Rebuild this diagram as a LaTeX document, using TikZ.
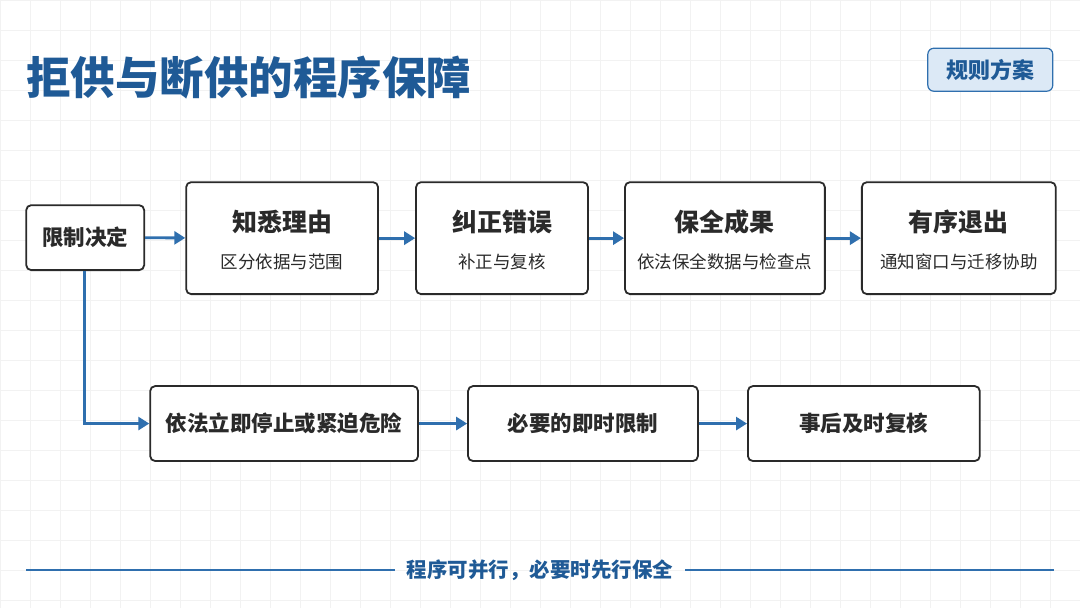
\documentclass[tikz,border=0pt]{standalone}
\usepackage{fontspec}
\setmainfont{Noto Sans CJK SC}
\usetikzlibrary{arrows.meta}
\definecolor{blu}{HTML}{1F5A96}
\definecolor{arr}{HTML}{2F6FAE}
\definecolor{txt}{HTML}{2A2A2A}
\definecolor{tagbg}{HTML}{DCE9F6}
\begin{document}
\begin{tikzpicture}[x=1pt,y=-1pt,
  box/.style={draw=txt,line width=1.8pt,rounded corners=5pt,fill=white,inner sep=0pt},
  con/.style={draw=arr,line width=2.8pt,-{Triangle[length=11pt,width=13pt]}},
  tt/.style={font=\bfseries\fontsize{25}{30}\selectfont,text=txt},
  st/.style={font=\fontsize{17.5}{21}\selectfont,text=txt},
  bt/.style={font=\bfseries\fontsize{21.5}{26}\selectfont,text=txt}]
\fill[white] (0,0) rectangle (1080,608);
\foreach \i in {0,30,...,1080} \draw[black!5,line width=0.5pt] (\i,0) -- (\i,608);
\foreach \j in {0,30,...,600} \draw[black!5,line width=0.5pt] (0,\j) -- (1080,\j);
\useasboundingbox (0,0) rectangle (1080,608);
\node[anchor=west,text=blu,font=\bfseries\fontsize{44.5}{50}\selectfont,inner sep=0pt] (title) at (26,77) {拒供与断供的程序保障};
\node[draw=arr,line width=1.2pt,fill=tagbg,rounded corners=6pt,minimum width=125pt,minimum height=43pt,text=blu,font=\bfseries\fontsize{22}{26}\selectfont] (tag) at (990.5,69.5) {规则方案};
\node[box,minimum width=118pt,minimum height=65pt,bt] (a) at (85,237.5) {限制决定};
\node[box,minimum width=192pt,minimum height=112pt] (b) at (282,238) {};
\node[tt] (bt) at (282,222) {知悉理由}; \node[st] at (282,262) {区分依据与范围};
\node[box,minimum width=172pt,minimum height=112pt] (c) at (502,238) {};
\node[tt] at (502,222) {纠正错误}; \node[st] at (502,262) {补正与复核};
\node[box,minimum width=200pt,minimum height=112pt] (d) at (725,238) {};
\node[tt] at (725,222) {保全成果}; \node[st] at (725,262) {依法保全数据与检查点};
\node[box,minimum width=194pt,minimum height=112pt] (e) at (959,238) {};
\node[tt] at (959,222) {有序退出}; \node[st] at (959,262) {通知窗口与迁移协助};
\node[box,minimum width=268pt,minimum height=75pt,bt] (f) at (284,423.5) {依法立即停止或紧迫危险};
\node[box,minimum width=230pt,minimum height=75pt,bt] (g) at (583,423.5) {必要的即时限制};
\node[box,minimum width=232pt,minimum height=75pt,bt] (h) at (864,423.5) {事后及时复核};
\draw[con] (a) -- (b); \draw[con] (b) -- (c); \draw[con] (c) -- (d); \draw[con] (d) -- (e);
\draw[con] (f) -- (g); \draw[con] (g) -- (h);
\draw[con] (a.south -| 84,0) |- (f.west);
\node[text=blu,font=\bfseries\fontsize{20.5}{24}\selectfont,inner xsep=12pt] (foot) at (540,570) {程序可并行，必要时先行保全};
\coordinate (l1) at (26,570); \coordinate (l2) at (1054,570);
\draw[arr,line width=1.2pt] (l1) -- (foot.west) (foot.east) -- (l2);
\end{tikzpicture}
\end{document}
